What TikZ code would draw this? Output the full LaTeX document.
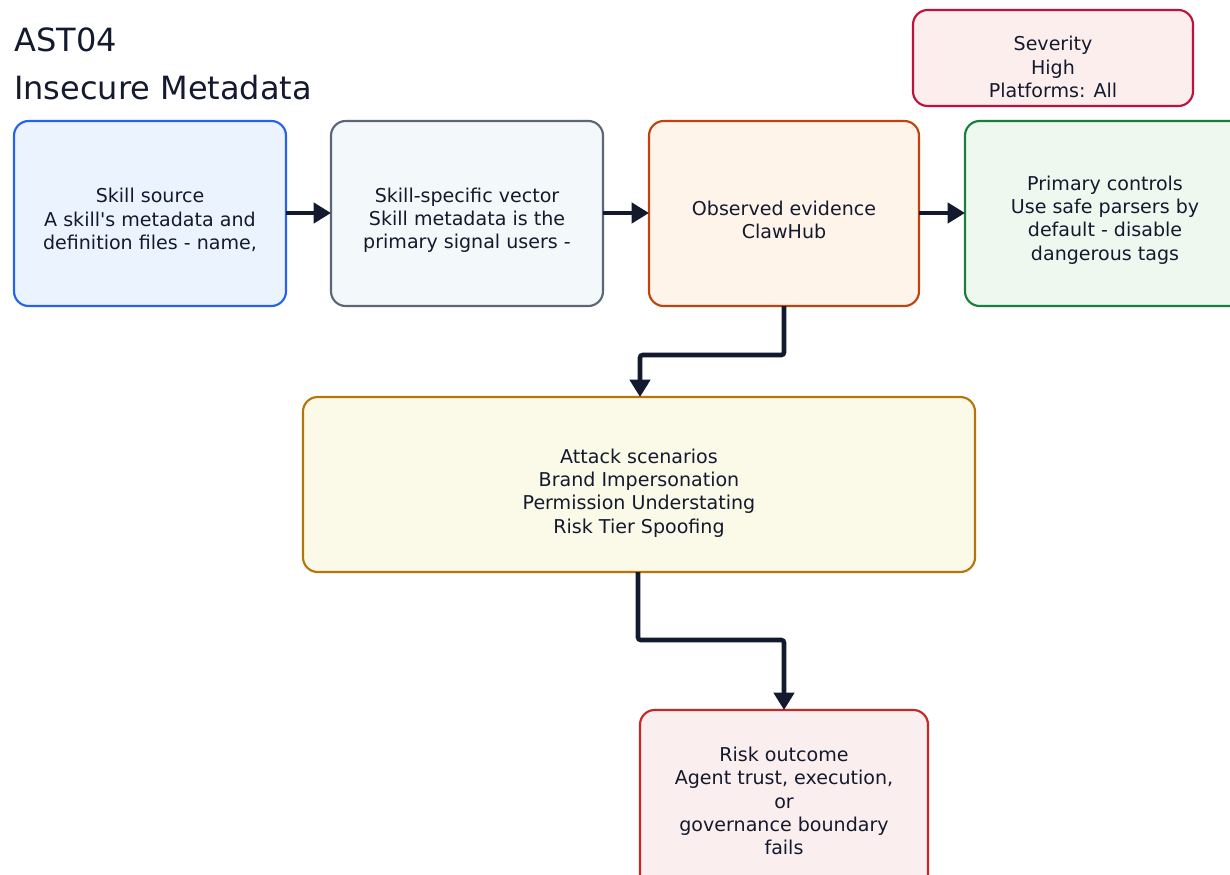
\documentclass[tikz,border=0pt]{standalone}
\usepackage{fontspec}
\setmainfont{DejaVu Sans}
\newfontfamily\plainquote{DejaVu Sans}
\usetikzlibrary{arrows.meta}
\definecolor{ink}{HTML}{141A2E}
\definecolor{blueB}{HTML}{2563EB}\definecolor{blueF}{HTML}{EBF4FE}
\definecolor{grayB}{HTML}{5B6678}\definecolor{grayF}{HTML}{F3F8FA}
\definecolor{oranB}{HTML}{C2410C}\definecolor{oranF}{HTML}{FEF4EA}
\definecolor{greenB}{HTML}{16803C}\definecolor{greenF}{HTML}{EFF8EF}
\definecolor{crimB}{HTML}{BE123C}\definecolor{crimF}{HTML}{FDEEEE}
\definecolor{goldB}{HTML}{B5750B}\definecolor{goldF}{HTML}{FBF9E7}
\definecolor{redB}{HTML}{C62828}\definecolor{redF}{HTML}{FAEEEE}
\tikzset{
  card/.style={draw=#1B, fill=#1F, line width=1.6pt, rounded corners=11pt, inner sep=0pt},
  txt/.style={align=center, text=ink, font=\fontsize{14.3pt}{17.4pt}\selectfont},
  flow/.style={draw=ink, line width=3.4pt, -{Triangle[length=13pt,width=15pt]}, rounded corners=2pt},
}
\begin{document}
\begin{tikzpicture}[x=0.75pt,y=-0.75pt]
\useasboundingbox (0,0) rectangle (1230,874);
\fill[white] (0,0) rectangle (1230,874);
% title
\node[anchor=base west, inner sep=0pt, text=ink, font=\fontsize{24pt}{28pt}\selectfont] (t1) at (14,52) {AST04};
\node[anchor=base west, inner sep=0pt, text=ink, font=\fontsize{24pt}{28pt}\selectfont] (t2) at (14,99) {Insecure Metadata};
% boxes
\draw[card=blue] (14,121) rectangle (286,306);
\node[txt] (src) at (150,220) {Skill source\\A skill{\plainquote '}s metadata and\\definition files - name,};
\coordinate (srcR) at (286,213);
\draw[card=gray] (331,121) rectangle (603,306);
\node[txt] (vec) at (467,220) {Skill-specific vector\\Skill metadata is the\\primary signal users -};
\coordinate (vecL) at (331,213); \coordinate (vecR) at (603,213);
\draw[card=oran] (649,121) rectangle (919,306);
\node[txt] (obs) at (784,220) {Observed evidence\\ClawHub};
\coordinate (obsL) at (649,213); \coordinate (obsR) at (919,213); \coordinate (obsB) at (784,306);
\draw[card=green] (965,121) rectangle (1245,306);
\node[txt] (ctl) at (1105,220) {Primary controls\\Use safe parsers by\\default - disable\\dangerous tags};
\coordinate (ctlL) at (965,213);
\draw[card=crim] (913,10) rectangle (1193,106);
\node[txt] (sev) at (1053,67) {Severity\\High\\Platforms: All};
\draw[card=gold] (303,397) rectangle (975,572);
\node[txt] (att) at (639,493) {Attack scenarios\\Brand Impersonation\\Permission Understating\\Risk Tier Spoofing};
\coordinate (attT) at (640,397); \coordinate (attB) at (638,572);
\draw[card=red] (640,710) rectangle (928,890);
\node[txt] (risk) at (784,801) {Risk outcome\\Agent trust, execution,\\or\\governance boundary\\fails};
\coordinate (riskT) at (784,710);
% connectors
\draw[flow] (srcR) -- (vecL);
\draw[flow] (vecR) -- (obsL);
\draw[flow] (obsR) -- (ctlL);
\draw[flow] (obsB) -- (784,355) -- (640,355) -- (attT);
\draw[flow] (attB) -- (638,640) -- (784,640) -- (riskT);
\end{tikzpicture}
\end{document}
